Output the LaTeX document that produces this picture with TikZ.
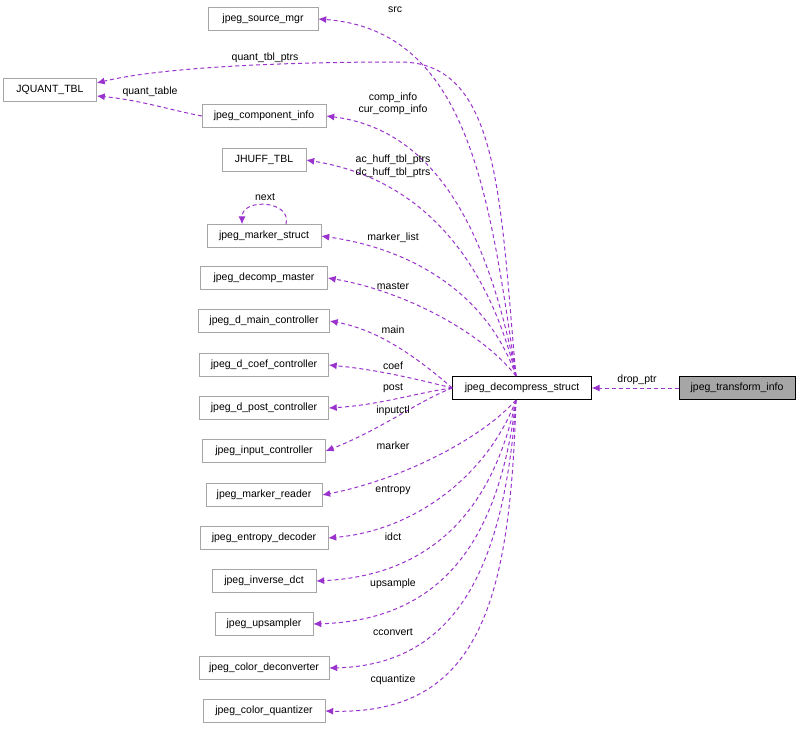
\documentclass[tikz,border=0pt]{standalone}
\usepackage{fontspec}
\setmainfont{Liberation Sans}
\usetikzlibrary{arrows.meta}
\begin{document}
\begin{tikzpicture}[x=1pt,y=-1pt]
\definecolor{ec}{RGB}{154,50,205}
\tikzset{box/.style={draw=black!35,fill=white,font=\fontsize{10.5}{12}\selectfont,minimum height=23pt,inner xsep=2pt},
  lbl/.style={font=\fontsize{10.5}{12}\selectfont},
  edge/.style={draw=ec,dash pattern=on 4pt off 3pt,-{Latex[length=8pt,width=7pt]},line width=1pt}}
\useasboundingbox (0,0) rectangle (800,728);
\node[box,minimum width=110pt] (src) at (263,19) {jpeg\_source\_mgr};
\node[box,minimum width=93pt] (jq) at (50,90) {JQUANT\_TBL};
\node[box,minimum width=124pt] (ci) at (264,116) {jpeg\_component\_info};
\node[box,minimum width=84pt] (jh) at (264,160) {JHUFF\_TBL};
\node[box,minimum width=114pt] (ms) at (264,236) {jpeg\_marker\_struct};
\node[box,minimum width=127pt] (dm) at (264,278) {jpeg\_decomp\_master};
\node[box,minimum width=131pt] (mc) at (264,321) {jpeg\_d\_main\_controller};
\node[box,minimum width=129pt] (cc) at (264,365) {jpeg\_d\_coef\_controller};
\node[box,minimum width=129pt] (pc) at (264,408) {jpeg\_d\_post\_controller};
\node[box,minimum width=123pt] (ic) at (264,451) {jpeg\_input\_controller};
\node[box,minimum width=116pt] (mr) at (264,495) {jpeg\_marker\_reader};
\node[box,minimum width=128pt] (ed) at (264,538) {jpeg\_entropy\_decoder};
\node[box,minimum width=104pt] (id) at (264,581) {jpeg\_inverse\_dct};
\node[box,minimum width=98pt] (up) at (264,624) {jpeg\_upsampler};
\node[box,minimum width=130pt] (cd) at (264,668) {jpeg\_color\_deconverter};
\node[box,minimum width=122pt] (cq) at (264,711) {jpeg\_color\_quantizer};
\node[box,draw=black,minimum width=139pt] (d) at (522,388) {jpeg\_decompress\_struct};
\node[box,draw=black,fill=black!35,minimum width=116pt] (t) at (737,388) {jpeg\_transform\_info};
\coordinate (dt) at (516,376);
\coordinate (db) at (516,400);
\draw[edge] (t.west) -- (d.east);
\node[lbl] at (637,380) {drop\_ptr};
\draw[edge] (dt) .. controls (490,200) and (470,30) .. (src.east);
\node[lbl] at (395,10) {src};
\draw[edge] (dt) .. controls (500,200) and (500,62) .. (400,62) .. controls (250,62) and (150,70) .. (jq.east|-0,83);
\node[lbl] at (265,58) {quant\_tbl\_ptrs};
\draw[edge] (ci.west) .. controls (170,110) and (140,100) .. (jq.east|-0,96);
\node[lbl] at (150,92) {quant\_table};
\draw[edge] (dt) .. controls (490,240) and (440,130) .. (ci.east);
\node[lbl] at (393,98) {comp\_info};
\node[lbl] at (393,110) {cur\_comp\_info};
\draw[edge] (dt) .. controls (490,270) and (430,180) .. (jh.east);
\node[lbl] at (393,160) {ac\_huff\_tbl\_ptrs};
\node[lbl] at (393,173) {dc\_huff\_tbl\_ptrs};
\draw[edge] ([xshift=22pt]ms.north) .. controls (292,200) and (242,198) .. ([xshift=-22pt]ms.north);
\node[lbl] at (265,197) {next};
\draw[edge] (dt) .. controls (490,300) and (420,250) .. (ms.east);
\node[lbl] at (393,238) {marker\_list};
\draw[edge] (dt) .. controls (480,330) and (400,290) .. (dm.east);
\node[lbl] at (393,286) {master};
\draw[edge] (d.west) .. controls (420,360) and (380,330) .. (mc.east);
\node[lbl] at (393,330) {main};
\draw[edge] (d.west) .. controls (420,380) and (380,370) .. (cc.east);
\node[lbl] at (393,366) {coef};
\draw[edge] (d.west) .. controls (420,392) and (380,405) .. (pc.east);
\node[lbl] at (393,388) {post};
\draw[edge] (d.west) .. controls (420,400) and (380,430) .. (ic.east);
\node[lbl] at (393,411) {inputctl};
\draw[edge] (db) .. controls (480,440) and (400,480) .. (mr.east);
\node[lbl] at (393,446) {marker};
\draw[edge] (db) .. controls (490,470) and (420,530) .. (ed.east);
\node[lbl] at (393,490) {entropy};
\draw[edge] (db) .. controls (495,500) and (440,575) .. (id.east);
\node[lbl] at (393,537) {idct};
\draw[edge] (db) .. controls (500,530) and (450,620) .. (up.east);
\node[lbl] at (393,584) {upsample};
\draw[edge] (db) .. controls (505,560) and (460,665) .. (cd.east);
\node[lbl] at (393,632) {cconvert};
\draw[edge] (db) .. controls (510,600) and (480,715) .. (cq.east);
\node[lbl] at (393,680) {cquantize};
\end{tikzpicture}
\end{document}
